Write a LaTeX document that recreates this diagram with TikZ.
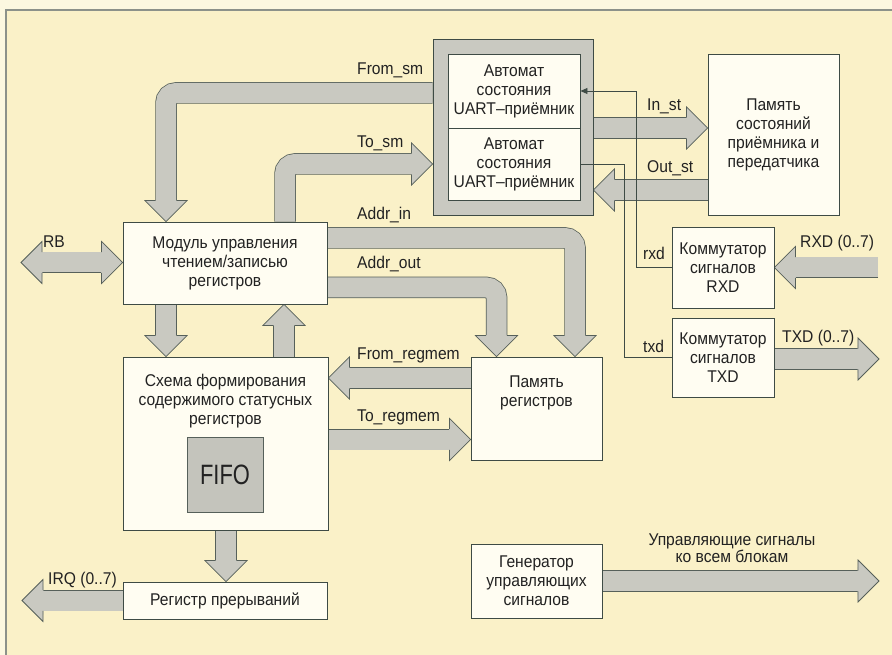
\documentclass[tikz,border=0pt]{standalone}
\usepackage{fontspec}
\setmainfont{Liberation Sans}[FakeStretch=0.92]
\usetikzlibrary{calc,arrows.meta}
\definecolor{outerbg}{HTML}{FCF8E0}
\definecolor{bg}{HTML}{FAF1C8}
\definecolor{boxfill}{HTML}{FFFDF2}
\definecolor{boxdraw}{HTML}{3E4B45}
\definecolor{arrfill}{HTML}{C9C9C1}
\definecolor{arrdraw}{HTML}{56605A}
\definecolor{framec}{HTML}{8C928A}
\definecolor{textc}{HTML}{222222}
\definecolor{fifofill}{HTML}{C4C4BC}
\newcommand\mainsz{\fontsize{17}{19}\selectfont}
\pgfdeclarelayer{bglayer}
\pgfdeclarelayer{arrlayer}
\pgfsetlayers{bglayer,arrlayer,main}
\newcommand\sarrow[3]{%
  \draw[bandout] (#1) -- ($(#2)!21pt!(#1)$);
  \draw[bandin] (#1) -- ($(#2)!21pt!(#1)$);
  \pic[rotate=#3] at (#2) {ahead};}
\newcommand\barrow[3]{%
  \draw[bandout] #1;
  \draw[bandin] #1;
  \pic[rotate=#3] at (#2) {ahead};}
\newcommand\darrow[4]{%
  \draw[bandout] ($(#1)!21pt!(#2)$) -- ($(#2)!21pt!(#1)$);
  \draw[bandin] ($(#1)!21pt!(#2)$) -- ($(#2)!21pt!(#1)$);
  \pic[rotate=#3] at (#1) {ahead};
  \pic[rotate=#4] at (#2) {ahead};}
\begin{document}
\begin{tikzpicture}[x=1pt,y=-1pt,
  box/.style={draw=boxdraw,fill=boxfill,line width=0.9pt,inner sep=0pt,align=center,font=\mainsz,text=textc},
  txt/.style={inner sep=0pt,align=center,font=\mainsz,text=textc},
  lbl/.style={anchor=base west,inner sep=0pt,font=\mainsz,text=textc},
  clbl/.style={anchor=base,inner sep=0pt,font=\mainsz,text=textc},
  bandout/.style={draw=arrdraw,line width=21.5pt,rounded corners=10pt},
  bandin/.style={draw=arrfill,line width=20pt,rounded corners=10pt},
  thinl/.style={draw=boxdraw,line width=0.8pt},
  ahead/.pic={
    \fill[arrfill] (-21.4,-10) -- (-21,-21) -- (0,0) -- (-21,21) -- (-21.4,10) -- cycle;
    \draw[arrdraw,line width=0.75pt,line join=miter] (-21,-10.4) -- (-21,-21) -- (0,0) -- (-21,21) -- (-21,10.4);
  }]
\useasboundingbox (0,0) rectangle (892,655);
\begin{pgfonlayer}{bglayer}
  \fill[outerbg] (0,0) rectangle (892,655);
  \fill[bg] (6,10) rectangle (892,655);
  \draw[framec,line width=2pt] (6,655) -- (6,10) -- (892,10);
\end{pgfonlayer}

% blocks
\node[box,fill=arrfill,minimum width=160,minimum height=176] (smo) at (513,127) {};
\node[box,minimum width=132,minimum height=74] (sm1) at (514,91) {Автомат\\состояния\\UART–приёмник};
\node[box,minimum width=132,minimum height=72] (sm2) at (514,164) {Автомат\\состояния\\UART–приёмник};
\node[box,minimum width=131,minimum height=161] (mst) at (773.5,134.5) {Память\\состояний\\приёмника и\\передатчика};
\node[box,minimum width=204,minimum height=82] (mod) at (225,263) {Модуль управления\\чтением/записью\\регистров};
\node[box,minimum width=205,minimum height=173] (sch) at (225.5,443.5) {};
\node[txt] (schtxt) at (225.5,401) {Схема формирования\\содержимого статусных\\регистров};
\node[box,fill=fifofill,draw=arrdraw,minimum width=76,minimum height=75,font=\fontsize{28}{28}\selectfont] (fifo) at (225,474.5) {\scalebox{0.85}[1]{FIFO}};
\node[box,minimum width=204,minimum height=37] (irqr) at (225,600.5) {Регистр прерываний};
\node[box,minimum width=131,minimum height=103] (mem) at (536.5,408.5) {};
\node[txt] (memtxt) at (536.5,393) {Память\\регистров};
\node[box,minimum width=102,minimum height=81] (rxdb) at (723,267.5) {Коммутатор\\сигналов\\RXD};
\node[box,minimum width=102,minimum height=79] (txdb) at (723,357.5) {Коммутатор\\сигналов\\TXD};
\node[box,minimum width=131,minimum height=74] (gen) at (536.5,581) {Генератор\\управляющих\\сигналов};

% block arrows
\begin{pgfonlayer}{arrlayer}
  \barrow{(smo.west |- 0,93) -| (166,201)}{mod.north -| 166,0}{-90}
  \barrow{(mod.north -| 285,0) |- (412,164)}{smo.west |- 0,164}{0}
  \barrow{(mod.east |- 0,238) -| (575,336)}{mem.north -| 575,0}{-90}
  \barrow{(mod.east |- 0,287.5) -| (496.5,336)}{mem.north -| 496.5,0}{-90}
  \sarrow{mod.south -| 166,0}{sch.north -| 166,0}{-90}
  \sarrow{sch.north -| 284,0}{mod.south -| 284,0}{90}
  \sarrow{mem.west |- 0,378}{sch.east |- 0,378}{180}
  \sarrow{sch.east |- 0,439.5}{mem.west |- 0,439.5}{0}
  \sarrow{sch.south -| 226,0}{irqr.north -| 226,0}{-90}
  \coordinate (irqend) at (22,600.5);
  \sarrow{irqr.west}{irqend}{180}
  \coordinate (rbend) at (21,262.5);
  \darrow{rbend}{mod.west |- 0,262.5}{180}{0}
  \sarrow{smo.east |- 0,128}{mst.west |- 0,128}{0}
  \sarrow{mst.west |- 0,190}{smo.east |- 0,190}{180}
  \coordinate (rxdin) at (878,267.5);
  \sarrow{rxdin}{rxdb.east}{180}
  \coordinate (txdout) at (879,359);
  \sarrow{txdb.east |- txdout}{txdout}{0}
  \coordinate (genout) at (879,581);
  \sarrow{gen.east}{genout}{0}
\end{pgfonlayer}

% thin signal lines
\draw[thinl,-{Triangle[length=7pt,width=6pt]}] (rxdb.west) -| (636,91) -- (sm1.east);
\draw[thinl] (sm2.east) -| (624.5,357.5) -- (txdb.west);

% labels
\node[lbl] (lfsm) at (357,75) {From\_sm};
\node[lbl] (ltsm) at (357,148) {To\_sm};
\node[lbl] (lain) at (357,220) {Addr\_in};
\node[lbl] (laout) at (357,269) {Addr\_out};
\node[lbl] (lfrm) at (357,359) {From\_regmem};
\node[lbl] (ltrm) at (357,421) {To\_regmem};
\node[lbl] (linst) at (647,111) {In\_st};
\node[lbl] (loutst) at (647,173) {Out\_st};
\node[lbl] (lrxd) at (643,260) {rxd};
\node[lbl] (ltxd) at (643,352) {txd};
\node[lbl] (lRXD) at (800,248) {RXD (0..7)};
\node[lbl] (lTXD) at (782,342) {TXD (0..7)};
\node[lbl] (lrb) at (43,248) {RB};
\node[lbl] (lirq) at (48,584) {IRQ (0..7)};
\node[clbl] (lctl1) at (732,545) {Управляющие сигналы};
\node[clbl] (lctl2) at (732,562) {ко всем блокам};
\end{tikzpicture}
\end{document}
